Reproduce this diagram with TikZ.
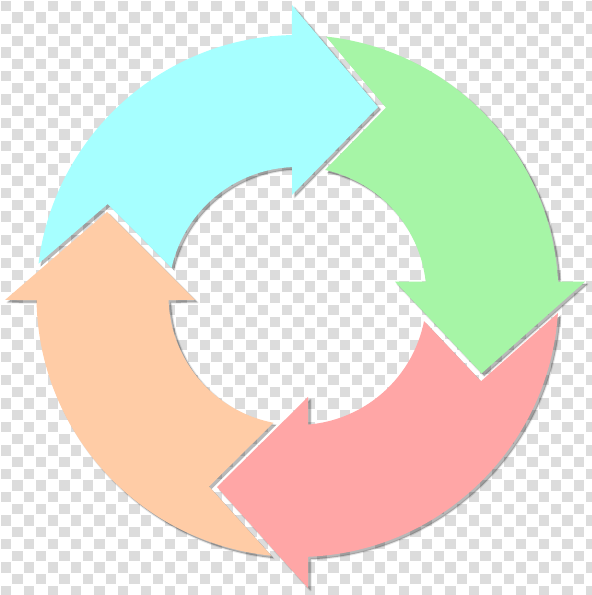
\documentclass[tikz,border=0pt]{standalone}
\definecolor{cyanA}{RGB}{166,255,255}
\definecolor{greenA}{RGB}{166,245,166}
\definecolor{pinkA}{RGB}{255,166,166}
\definecolor{peachA}{RGB}{255,204,166}
\definecolor{checkgrey}{RGB}{220,220,220}
% one arrow: #1 body+head path, #2 notch (cut out, clockwise), #3 style
\newcommand\myarrowpiece[3]{%
  \begin{scope}
    \clip (-2000,-2000) -- (2000,-2000) -- (2000,2000) -- (-2000,2000) -- cycle #2;
    \path[#3] #1;
  \end{scope}}
\newcommand\arrowcyan[1]{\myarrowpiece
  {(91.21:261) arc[start angle=91.21,end angle=177.5,radius=261] -- (177.5:129)
   arc[start angle=177.5,end angle=92.44,radius=129] -- (-5.5,101) -- (80.5,189) -- (-5.5,291) -- cycle}
  {(-291.87,3.97) -- (-189.87,91.97) -- (-101.87,3.97) -- cycle}{#1}}
\newcommand\arrowgreen[1]{\myarrowpiece
  {(3.14:261) arc[start angle=3.14,end angle=87.5,radius=261] -- (87.5:129)
   arc[start angle=87.5,end angle=6.36,radius=129] -- (97.5,14.3) -- (184.2,-77.3) -- (287.5,14.3) -- cycle}
  {(2.47,290.35) -- (88.47,188.35) -- (2.47,100.35) -- cycle}{#1}}
\newcommand\arrowpink[1]{\myarrowpiece
  {(272.31:261) arc[start angle=272.31,end angle=357.5,radius=261] -- (357.5:129)
   arc[start angle=357.5,end angle=274.67,radius=129] -- (10.5,-101) -- (-80.5,-191) -- (10.5,-292) -- cycle}
  {(286.78,6.33) -- (183.48,-85.27) -- (96.78,6.33) -- cycle}{#1}}
\newcommand\arrowpeach[1]{\myarrowpiece
  {(180.88:261) arc[start angle=180.88,end angle=267.5,radius=261] -- (267.5:129)
   arc[start angle=267.5,end angle=181.78,radius=129] -- (-102.5,-4) -- (-190.5,84) -- (-292.5,-4) -- cycle}
  {(2.51,-291.52) -- (-88.49,-190.52) -- (2.51,-100.52) -- cycle}{#1}}
\begin{document}
\begin{tikzpicture}[x=1pt,y=1pt,
  checkcell/.style={fill=checkgrey},
  arrowshadow/.style={fill=black,fill opacity=0.28,draw=black,draw opacity=0.1,line width=2pt,line join=round}]
\useasboundingbox (0,0) rectangle (592,595);
\fill[white] (0,0) rectangle (592,595);
\begin{scope}
  \clip (0,0) rectangle (592,595);
  \foreach \i in {0,...,50}{
    \foreach \j in {0,...,50}{
      \pgfmathtruncatemacro\cpar{mod(\i+\j,2)}
      \ifnum\cpar=0
        \path[checkcell] ({11.7*\i+0.7},{595-11.7*\j-0.7}) rectangle ({11.7*\i+11.0},{595-11.7*\j-11.0});
      \fi
    }}
\end{scope}
\begin{scope}[shift={(297.5,299)}]
  % drop shadows
  \begin{scope}[shift={(2.5,-2.5)}]
    \arrowcyan{arrowshadow}
    \arrowgreen{arrowshadow}
    \arrowpink{arrowshadow}
    \arrowpeach{arrowshadow}
  \end{scope}
  % arrows
  \arrowcyan{fill=cyanA}
  \arrowgreen{fill=greenA}
  \arrowpink{fill=pinkA}
  \arrowpeach{fill=peachA}
\end{scope}
\end{tikzpicture}
\end{document}
